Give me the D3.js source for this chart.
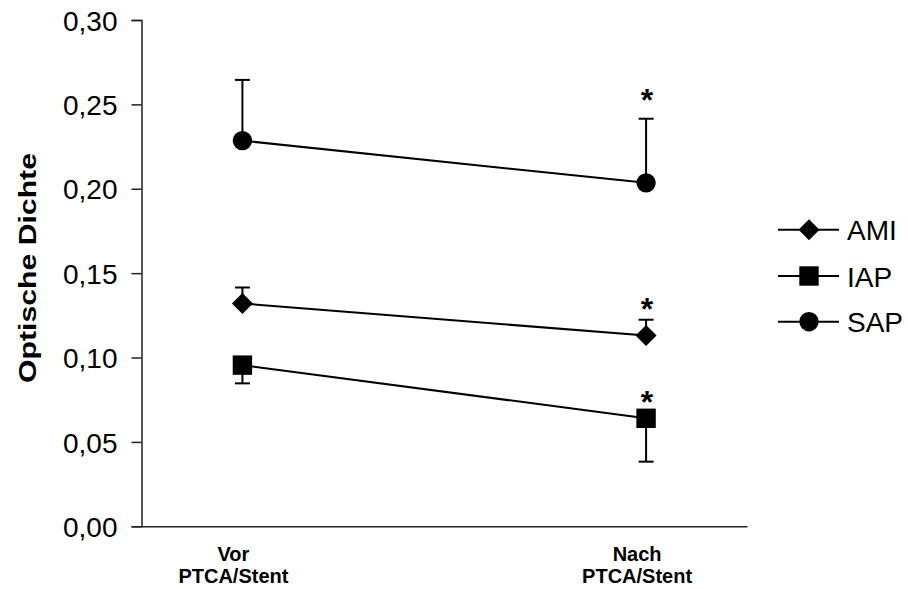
<!DOCTYPE html>
<html>
<head>
<meta charset="utf-8">
<script src="https://cdn.jsdelivr.net/npm/d3@7/dist/d3.min.js"></script>
<style>
  html, body { margin: 0; padding: 0; background: #fff; }
  svg { display: block; font-family: Arial, "Liberation Sans", sans-serif; }
</style>
</head>
<body>
<svg id="chart" width="908" height="589"></svg>
<script>
// Time points (x categories)
const categories = ["Vor\nPTCA/Stent", "Nach\nPTCA/Stent"];

// Mean optical density per group
const seriesNames = ["AMI", "IAP", "SAP"];
const amiValues = [0.132, 0.113];
const iapValues = [0.0955, 0.064];
const sapValues = [0.2285, 0.2035];

// Standard deviations (one-sided bars: up for AMI/SAP, down for IAP)
const amiErrors = [0.0095, 0.0094];
const iapErrors = [0.0108, 0.0257];
const sapErrors = [0.036, 0.038];

// Significance marks (*) after the intervention, with their heights
const sigLevels = [0.2566, 0.1329, 0.0779];

// Axis ticks
const yTicks = [0, 0.05, 0.10, 0.15, 0.20, 0.25, 0.30];

const series = [
  { name: seriesNames[0], values: amiValues, errors: amiErrors, dir: 1, shape: "diamond" },
  { name: seriesNames[1], values: iapValues, errors: iapErrors, dir: -1, shape: "square" },
  { name: seriesNames[2], values: sapValues, errors: sapErrors, dir: 1, shape: "circle" }
];

const svg = d3.select("#chart");
const plotLeft = 141.5, plotRight = 747, plotTop = 20, plotBottom = 526.3;

const x = d3.scalePoint().domain(categories).range([plotLeft, plotRight]).padding(0.25);
const y = d3.scaleLinear().domain([0, 0.30]).range([plotBottom, plotTop]);

const fmt = v => d3.format(".2f")(v).replace(".", ",");

// Y axis
const yAxis = svg.append("g")
  .attr("transform", `translate(${plotLeft},0)`)
  .call(d3.axisLeft(y).tickValues(yTicks).tickFormat(fmt).tickSize(10).tickPadding(14));
yAxis.select(".domain").attr("stroke", "#222").attr("stroke-width", 1.5);
yAxis.selectAll(".tick line").attr("stroke", "#222").attr("stroke-width", 1.5);
yAxis.selectAll(".tick text")
  .attr("font-size", 28).attr("fill", "#000")
  .attr("font-family", "Arial, 'Liberation Sans', sans-serif")
  .attr("dy", "0.36em");

// X axis (line only, labels drawn below)
const xAxis = svg.append("g")
  .attr("transform", `translate(0,${plotBottom})`)
  .call(d3.axisBottom(x).tickSize(0).tickFormat(""));
xAxis.select(".domain").attr("stroke", "#222").attr("stroke-width", 1.5);

categories.forEach(c => {
  const lines = c.split("\n");
  const t = svg.append("text")
    .attr("text-anchor", "middle")
    .attr("font-weight", "bold")
    .attr("font-size", 20)
    .attr("fill", "#000");
  lines.forEach((ln, i) => {
    t.append("tspan")
      .attr("x", x(c) - 9)
      .attr("y", 561 + i * 22)
      .text(ln);
  });
});

// Y axis title
svg.append("text")
  .attr("transform", "translate(36,268) rotate(-90)")
  .attr("text-anchor", "middle")
  .attr("font-weight", "bold")
  .attr("font-size", 24)
  .attr("textLength", 230)
  .attr("lengthAdjust", "spacingAndGlyphs")
  .attr("fill", "#000")
  .text("Optische Dichte");

// Marker drawing helper
function drawMarker(g, shape, cx, cy) {
  if (shape === "circle") {
    g.append("circle").attr("cx", cx).attr("cy", cy).attr("r", 9.7).attr("fill", "#000");
  } else if (shape === "square") {
    const s = 19.4;
    g.append("rect").attr("x", cx - s / 2).attr("y", cy - s / 2)
      .attr("width", s).attr("height", s).attr("fill", "#000");
  } else {
    const h = 10.5;
    g.append("path")
      .attr("d", `M${cx},${cy - h}L${cx + h},${cy}L${cx},${cy + h}L${cx - h},${cy}Z`)
      .attr("fill", "#000");
  }
}

const plot = svg.append("g");
const line = d3.line().x(d => x(d.c)).y(d => y(d.v));

series.forEach(s => {
  const pts = categories.map((c, i) => ({ c, v: s.values[i], e: s.errors[i] }));
  // error bars
  pts.forEach(p => {
    const yEnd = y(p.v + s.dir * p.e);
    plot.append("line")
      .attr("x1", x(p.c)).attr("x2", x(p.c))
      .attr("y1", y(p.v)).attr("y2", yEnd)
      .attr("stroke", "#000").attr("stroke-width", 2);
    plot.append("line")
      .attr("x1", x(p.c) - 7.5).attr("x2", x(p.c) + 7.5)
      .attr("y1", yEnd).attr("y2", yEnd)
      .attr("stroke", "#000").attr("stroke-width", 2);
  });
  // connecting line
  plot.append("path")
    .attr("d", line(pts))
    .attr("fill", "none").attr("stroke", "#000").attr("stroke-width", 2);
  // markers
  pts.forEach(p => drawMarker(plot, s.shape, x(p.c), y(p.v)));
});

// Significance asterisks
sigLevels.forEach(v => {
  svg.append("text")
    .attr("x", x(categories[1]) + 1)
    .attr("y", y(v) + 18)
    .attr("text-anchor", "middle")
    .attr("font-size", 32)
    .attr("font-weight", "bold")
    .attr("fill", "#000")
    .text("*");
});

// Legend
const legendRows = [229.7, 276, 321.7];
series.forEach((s, i) => {
  const ly = legendRows[i];
  const g = svg.append("g");
  g.append("line").attr("x1", 778).attr("x2", 839).attr("y1", ly).attr("y2", ly)
    .attr("stroke", "#000").attr("stroke-width", 2);
  drawMarker(g, s.shape, 809, ly);
  g.append("text").attr("x", 847).attr("y", ly + 10.5)
    .attr("font-size", 28).attr("fill", "#000").text(s.name);
});
</script>
</body>
</html>
